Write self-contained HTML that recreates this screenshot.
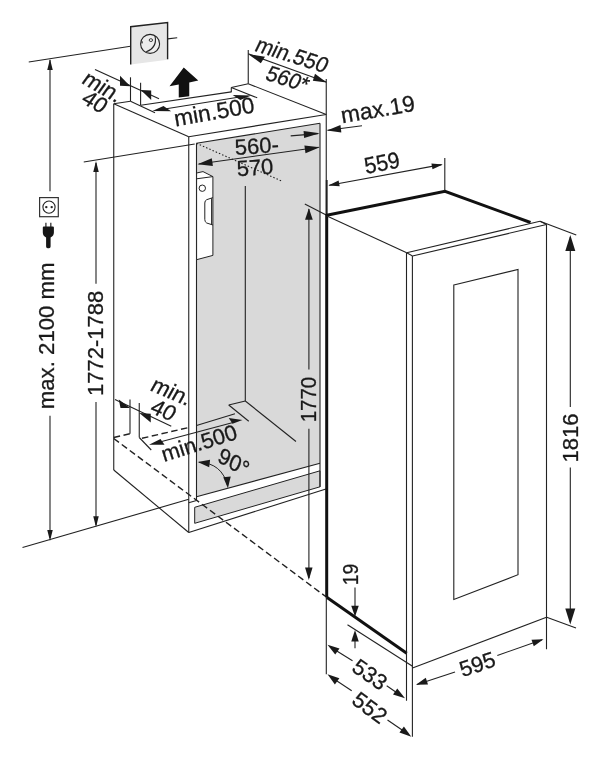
<!DOCTYPE html>
<html><head><meta charset="utf-8"><title>Installation dimensions</title>
<style>
html,body{margin:0;padding:0;background:#fff;}
svg{display:block;will-change:transform;}
text{font-family:"Liberation Sans",Arial,sans-serif;fill:#1a1a1a;stroke:#1a1a1a;stroke-width:0.3px;}
</style></head><body>
<svg width="600" height="761" viewBox="0 0 600 761">
<rect width="600" height="761" fill="#fff"/>
<polygon points="196.5,143.3 320,123.3 320,463.3 196.5,496.7" fill="#d9d9d9" stroke="none" stroke-width="1.1" />
<polygon points="194.7,507.3 320,470.8 320,486.8 194.7,523.3" fill="#d9d9d9" stroke="#222" stroke-width="1" />
<line x1="28.75" y1="62" x2="130.5" y2="46.25" stroke="#222" stroke-width="1.1" />
<line x1="50" y1="60" x2="50" y2="191.25" stroke="#222" stroke-width="1.1" />
<polygon points="50,59 52.75,70.0 47.25,70.0" fill="#1a1a1a" stroke="none" stroke-width="0" />
<line x1="50" y1="415.7" x2="50" y2="538" stroke="#222" stroke-width="1.1" />
<polygon points="50,541 47.25,530.0 52.75,530.0" fill="#1a1a1a" stroke="none" stroke-width="0" />
<line x1="22.5" y1="547.5" x2="188.75" y2="499.3" stroke="#222" stroke-width="1.1" />
<text transform="translate(53.5,409.2) rotate(-90)" font-size="22.2" text-anchor="start" >max. 2100 mm</text>
<rect x="39.6" y="197.6" width="18.7" height="19.1" fill="#fff" stroke="#333" stroke-width="1.2"/>
<circle cx="49" cy="207.1" r="6.1" fill="#fff" stroke="#222" stroke-width="1.1"/>
<circle cx="46.3" cy="207.1" r="1.2" fill="#222"/><circle cx="51.7" cy="207.1" r="1.2" fill="#222"/>
<path d="M45.9 222.8v4.5 M50.8 222.8v4.5" stroke="#444" stroke-width="1.4" fill="none"/>
<path d="M42.8 227.6Q42.8 226.6 43.8 226.6H52.9Q53.9 226.6 53.9 227.6V232.5Q53.9 235.8 50.6 237.6V246.6Q50.6 248.2 49 248.2H47.7Q46.1 248.2 46.1 246.6V237.6Q42.8 235.8 42.8 232.5Z" fill="#161616"/>
<line x1="83.75" y1="162" x2="194.7" y2="144" stroke="#222" stroke-width="1.1" />
<line x1="96" y1="163" x2="96" y2="283.75" stroke="#222" stroke-width="1.1" />
<polygon points="96,161 98.75,172.0 93.25,172.0" fill="#1a1a1a" stroke="none" stroke-width="0" />
<line x1="96" y1="402" x2="96" y2="525" stroke="#222" stroke-width="1.1" />
<polygon points="96,527.3 93.25,516.3 98.75,516.3" fill="#1a1a1a" stroke="none" stroke-width="0" />
<text transform="translate(102.8,396) rotate(-90)" font-size="22" text-anchor="start" >1772-1788</text>
<polygon points="130.7,26.7 167.6,22.6 167.6,59.8 130.7,64.6" fill="#e6e6e6" stroke="none" stroke-width="1.1" />
<polyline points="130.7,64.6 130.7,26.7 167.6,22.6 167.6,59.3" fill="none" stroke="#222" stroke-width="1.4" />
<line x1="167.6" y1="38.9" x2="177.2" y2="37.75" stroke="#222" stroke-width="1.1" />
<circle cx="150.1" cy="43.9" r="9.5" fill="#ececec" stroke="#222" stroke-width="1.1"/>
<path d="M155 36Q157.5 47.5 146.2 51.8" fill="none" stroke="#222" stroke-width="1.1"/>
<ellipse cx="150.9" cy="40.1" rx="1.7" ry="1.4" fill="#f4f4f4" stroke="#222" stroke-width="0.9"/>
<path d="M142.3 41.3L142 43.3" fill="none" stroke="#222" stroke-width="1.1"/>
<line x1="130.5" y1="77.3" x2="130.5" y2="101.3" stroke="#222" stroke-width="1.1" />
<line x1="140.6" y1="82.7" x2="140.6" y2="105.3" stroke="#222" stroke-width="1.1" />
<line x1="95" y1="69.5" x2="159" y2="98.7" stroke="#222" stroke-width="1.1" />
<polygon points="130.3,86.2 120,75.8 120,85.8" fill="#1a1a1a" stroke="none" stroke-width="1.1" />
<polygon points="140.8,90 151.2,90.5 151.2,100" fill="#1a1a1a" stroke="none" stroke-width="1.1" />
<text transform="translate(80.5,82.5) rotate(30) skewX(-6)" font-size="22" text-anchor="start" >min.</text>
<text transform="translate(80,102) rotate(29) skewX(-6)" font-size="22" text-anchor="start" >40</text>
<polygon points="183.75,67.5 169.5,86.25 178.75,84.5 178.75,97.5 189.25,96.25 189.25,82.5 198.25,80.5" fill="#111" stroke="none" stroke-width="1.1" />
<line x1="113.75" y1="103.75" x2="113.75" y2="470" stroke="#222" stroke-width="1.1" />
<line x1="113.75" y1="470" x2="188.75" y2="532.5" stroke="#222" stroke-width="1.1" />
<line x1="188.75" y1="136.7" x2="188.75" y2="532.5" stroke="#222" stroke-width="1.1" />
<line x1="196.5" y1="143.3" x2="196.5" y2="500.5" stroke="#222" stroke-width="1.1" />
<line x1="113.75" y1="103.75" x2="188.75" y2="136.7" stroke="#222" stroke-width="1.1" />
<line x1="188.75" y1="136.7" x2="326.25" y2="114.5" stroke="#222" stroke-width="1.1" />
<line x1="196.5" y1="143.3" x2="320" y2="123.3" stroke="#222" stroke-width="1.1" />
<line x1="320" y1="123.3" x2="320" y2="487" stroke="#222" stroke-width="1.1" />
<line x1="326.25" y1="79" x2="326.25" y2="215" stroke="#222" stroke-width="1.1" />
<line x1="326.7" y1="180" x2="326.7" y2="215" stroke="#222" stroke-width="1.9" />
<line x1="188.75" y1="532.5" x2="326.7" y2="488.7" stroke="#222" stroke-width="1.1" />
<line x1="188.75" y1="502.7" x2="196.5" y2="500.5" stroke="#222" stroke-width="1.1" />
<line x1="196.5" y1="496.7" x2="320" y2="463.3" stroke="#222" stroke-width="1.1" />
<line x1="113.75" y1="103.75" x2="130.5" y2="101.3" stroke="#222" stroke-width="1.1" />
<line x1="130.5" y1="101.3" x2="155" y2="112.7" stroke="#222" stroke-width="1.1" />
<line x1="140.7" y1="105.2" x2="231.3" y2="91.9" stroke="#222" stroke-width="1.1" />
<line x1="231.3" y1="87.5" x2="248.3" y2="83.8" stroke="#222" stroke-width="1.1" />
<line x1="231.3" y1="87.5" x2="231.3" y2="92.2" stroke="#222" stroke-width="1.1" />
<line x1="231.3" y1="87.5" x2="257.2" y2="97.8" stroke="#222" stroke-width="1.1" />
<line x1="248.25" y1="83.75" x2="326.25" y2="114.5" stroke="#222" stroke-width="1.1" />
<line x1="160" y1="109.7" x2="238" y2="97.2" stroke="#222" stroke-width="1.1" />
<polygon points="152.4,111 163.5,106 171.1,111.2" fill="#1a1a1a" stroke="none" stroke-width="1.1" />
<polygon points="251.3,95.4 232.7,94.9 240.3,100.1" fill="#1a1a1a" stroke="none" stroke-width="1.1" />
<text transform="translate(175.5,126.4) rotate(-10)" font-size="22.8" text-anchor="start" >min.500</text>
<line x1="248.25" y1="50" x2="248.25" y2="83.75" stroke="#222" stroke-width="1.1" />
<line x1="248.25" y1="53.75" x2="326.25" y2="82" stroke="#222" stroke-width="1.1" />
<polygon points="248.3,54.2 265,56.7 260.8,63.3" fill="#1a1a1a" stroke="none" stroke-width="1.1" />
<polygon points="326.7,82.5 315,73.7 312.8,80.8" fill="#1a1a1a" stroke="none" stroke-width="1.1" />
<text transform="translate(253.5,50.4) rotate(17.8) skewX(-8) scale(0.95,1)" font-size="22" text-anchor="start" >min.550</text>
<text transform="translate(264,79.3) rotate(17.5) skewX(-8) scale(0.95,1)" font-size="22" text-anchor="start" >560*</text>
<line x1="327.5" y1="130.3" x2="362" y2="125.7" stroke="#222" stroke-width="1.1" />
<polygon points="327,130.4 340.45,125.01 341.35,132.46" fill="#1a1a1a" stroke="none" stroke-width="0" />
<line x1="290.7" y1="135.9" x2="318" y2="133.6" stroke="#222" stroke-width="1.1" />
<polygon points="319.8,133.2 304.13,137.96 303.57,130.99" fill="#1a1a1a" stroke="none" stroke-width="0" />
<text transform="translate(342.3,123.3) rotate(-9.7)" font-size="22.8" text-anchor="start" >max.19</text>
<line x1="198.7" y1="164" x2="318.7" y2="147.3" stroke="#222" stroke-width="1.1" />
<polygon points="197.5,164.2 211.8,158.16 212.91,166.08" fill="#1a1a1a" stroke="none" stroke-width="0" />
<polygon points="319.8,147.3 305.5,153.34 304.39,145.42" fill="#1a1a1a" stroke="none" stroke-width="0" />
<text transform="translate(257.3,153.5) rotate(-4)" font-size="22" text-anchor="middle" >560-</text>
<text transform="translate(255.5,175) rotate(-4)" font-size="22" text-anchor="middle" >570</text>
<line x1="196.5" y1="143.3" x2="282.7" y2="181.5" stroke="#222" stroke-width="1.1" stroke-dasharray="1.5,2"/>
<line x1="245.3" y1="186" x2="245.3" y2="401" stroke="#222" stroke-width="1.1" />
<line x1="245.3" y1="401" x2="296" y2="441.5" stroke="#222" stroke-width="1.1" />
<line x1="228.75" y1="405" x2="245.3" y2="401" stroke="#222" stroke-width="1.1" />
<line x1="228.75" y1="405" x2="248.75" y2="421.25" stroke="#222" stroke-width="1.1" />
<path d="M196.6 173L203 171.6L212.9 176.6V255.4L196.6 259.7Z" fill="#fff" stroke="#222" stroke-width="1"/>
<path d="M196.6 178.8L212.9 176.6M212.9 197.6L206.7 199.7Q204.8 200.5 204.8 203V219.5Q204.8 222 206.7 223L212.9 225M211.6 198.2V224.6" fill="none" stroke="#222" stroke-width="1"/>
<circle cx="202.3" cy="188.2" r="3.2" fill="#fff" stroke="#222" stroke-width="1"/>
<line x1="113.75" y1="437.5" x2="130" y2="433.75" stroke="#222" stroke-width="1.4" stroke-dasharray="6.5,3.5"/>
<line x1="142" y1="438.3" x2="188.75" y2="427.5" stroke="#222" stroke-width="1.4" stroke-dasharray="6.5,3.5"/>
<line x1="196.5" y1="425.5" x2="235" y2="413.75" stroke="#222" stroke-width="1.1" />
<line x1="113.75" y1="438.5" x2="326.7" y2="597.3" stroke="#222" stroke-width="1.4" stroke-dasharray="6.5,3.5"/>
<line x1="130" y1="399.5" x2="130" y2="433.75" stroke="#222" stroke-width="1.1" />
<line x1="139.25" y1="403" x2="139.25" y2="437.5" stroke="#222" stroke-width="1.1" />
<line x1="115" y1="399.5" x2="171.25" y2="426.25" stroke="#222" stroke-width="1.1" />
<polygon points="130,408 118.75,399.5 120.5,408" fill="#1a1a1a" stroke="none" stroke-width="1.1" />
<polygon points="139.25,413 150.75,413.75 150.75,422.5" fill="#1a1a1a" stroke="none" stroke-width="1.1" />
<line x1="139.25" y1="437.5" x2="151.25" y2="450" stroke="#222" stroke-width="1.1" />
<line x1="158" y1="442.5" x2="234" y2="422.2" stroke="#222" stroke-width="1.1" />
<polygon points="149,444.7 160.5,438.9 164.5,444.7" fill="#1a1a1a" stroke="none" stroke-width="1.1" />
<polygon points="242.5,420 228.75,418 232.5,423.75" fill="#1a1a1a" stroke="none" stroke-width="1.1" />
<text transform="translate(149,390) rotate(23) skewX(-6)" font-size="22" text-anchor="start" >min.</text>
<text transform="translate(148.75,412) rotate(23) skewX(-6)" font-size="22" text-anchor="start" >40</text>
<text transform="translate(164,462) rotate(-17.5)" font-size="22" text-anchor="start" >min.500</text>
<path d="M199 462.3Q222 463 227.7 486" fill="none" stroke="#222" stroke-width="1"/>
<polygon points="197.7,462 210.06,459.71 209.17,467.15" fill="#1a1a1a" stroke="none" stroke-width="0" />
<polygon points="227.9,488.3 223.24,477.14 230.72,476.54" fill="#1a1a1a" stroke="none" stroke-width="0" />
<text transform="translate(216.6,461) rotate(30) skewX(8)" font-size="22" text-anchor="start" >90°</text>
<line x1="304.8" y1="203.9" x2="326.7" y2="215.3" stroke="#222" stroke-width="1.1" />
<line x1="308.9" y1="209" x2="308.9" y2="369.5" stroke="#222" stroke-width="1.1" />
<polygon points="308.9,208.3 312.75,219.8 305.05,219.8" fill="#1a1a1a" stroke="none" stroke-width="0" />
<line x1="308.9" y1="428.8" x2="308.9" y2="578" stroke="#222" stroke-width="1.1" />
<polygon points="308.8,580 305.05,567.5 312.55,567.5" fill="#1a1a1a" stroke="none" stroke-width="0" />
<text transform="translate(316.2,422.3) rotate(-90) scale(0.91,1)" font-size="22.5" text-anchor="start" >1770</text>
<polygon points="326.7,215.3 445,191.25 530.5,222.5 546.5,224.5 546.5,617.3 412.5,668 406.7,653.3 326.7,597.3" fill="#fff" stroke="none" stroke-width="1.1" />
<line x1="326.7" y1="215.3" x2="530.5" y2="222.5" stroke="#222" stroke-width="0" />
<polyline points="326.7,597.3 326.7,215.3 445,191.25 530.5,222.5" fill="none" stroke="#111" stroke-width="3.0" stroke-linejoin="miter"/>
<line x1="326.7" y1="597.3" x2="406.7" y2="653.3" stroke="#111" stroke-width="3.0" />
<line x1="327.5" y1="216.25" x2="406.7" y2="252.7" stroke="#222" stroke-width="1.1" />
<line x1="406.7" y1="252.7" x2="540" y2="221.25" stroke="#222" stroke-width="1.1" />
<line x1="412.5" y1="256" x2="546.5" y2="224.5" stroke="#222" stroke-width="1.1" />
<line x1="540" y1="221.25" x2="546.5" y2="224.5" stroke="#222" stroke-width="1.1" />
<line x1="406.5" y1="252.7" x2="406.5" y2="700.8" stroke="#222" stroke-width="1.1" />
<line x1="412.4" y1="256" x2="412.4" y2="736.7" stroke="#222" stroke-width="1.1" />
<line x1="406.7" y1="252.7" x2="412.5" y2="256" stroke="#222" stroke-width="1.1" />
<line x1="546.5" y1="224.5" x2="546.5" y2="649.3" stroke="#222" stroke-width="1.1" />
<line x1="412.5" y1="668" x2="546.5" y2="617.3" stroke="#222" stroke-width="1.1" />
<polygon points="453.8,285 518,269.5 518,574.7 453.8,599.5" fill="none" stroke="#222" stroke-width="1.1" />
<line x1="347.5" y1="624.7" x2="412.5" y2="666.2" stroke="#222" stroke-width="1.1" />
<line x1="444.8" y1="158" x2="444.8" y2="190.5" stroke="#222" stroke-width="1.1" />
<line x1="329.3" y1="185.2" x2="441.5" y2="164.6" stroke="#222" stroke-width="1.1" />
<polygon points="328.3,185.4 338.58,180.47 339.66,186.37" fill="#1a1a1a" stroke="none" stroke-width="0" />
<polygon points="442.8,164.4 432.52,169.33 431.44,163.43" fill="#1a1a1a" stroke="none" stroke-width="0" />
<text transform="translate(366,174) rotate(-11) scale(0.93,1)" font-size="23" text-anchor="start" >559</text>
<line x1="540" y1="221.25" x2="576.25" y2="235" stroke="#222" stroke-width="1.1" />
<line x1="546.7" y1="617.3" x2="576" y2="628" stroke="#222" stroke-width="1.1" />
<line x1="570.3" y1="237" x2="570.3" y2="407" stroke="#222" stroke-width="1.1" />
<line x1="570.3" y1="467.6" x2="570.3" y2="622" stroke="#222" stroke-width="1.1" />
<polygon points="570.3,235 575.3,251.0 565.3,251.0" fill="#1a1a1a" stroke="none" stroke-width="0" />
<polygon points="570.3,624.5 565.3,608.5 575.3,608.5" fill="#1a1a1a" stroke="none" stroke-width="0" />
<text transform="translate(578,462.5) rotate(-90)" font-size="22" text-anchor="start" >1816</text>
<line x1="417" y1="684.5" x2="455" y2="672" stroke="#222" stroke-width="1.1" />
<line x1="497.3" y1="655.5" x2="542" y2="639.7" stroke="#222" stroke-width="1.1" />
<polygon points="416,684.8 425.76,677.78 428.01,684.41" fill="#1a1a1a" stroke="none" stroke-width="0" />
<polygon points="543.5,639.2 533.8,646.3 531.49,639.7" fill="#1a1a1a" stroke="none" stroke-width="0" />
<text transform="translate(477.3,664) rotate(-18.5)" font-size="22" text-anchor="middle" y="7.88">595</text>
<line x1="326.3" y1="597" x2="326.3" y2="674.2" stroke="#222" stroke-width="1.1" />
<line x1="334" y1="649.2" x2="352.5" y2="660.8" stroke="#222" stroke-width="1.1" />
<line x1="386.7" y1="685.8" x2="399" y2="694.2" stroke="#222" stroke-width="1.1" />
<polygon points="327.5,644.7 339.5,648.44 335.23,654.61" fill="#1a1a1a" stroke="none" stroke-width="0" />
<polygon points="405,698.3 393.0,694.56 397.27,688.39" fill="#1a1a1a" stroke="none" stroke-width="0" />
<text transform="translate(370,674.2) rotate(34.7)" font-size="22" text-anchor="middle" y="7.88">533</text>
<line x1="334" y1="679" x2="351.7" y2="690.8" stroke="#222" stroke-width="1.1" />
<line x1="387.5" y1="720" x2="405" y2="732" stroke="#222" stroke-width="1.1" />
<polygon points="327.5,674.2 339.36,678.37 334.88,684.38" fill="#1a1a1a" stroke="none" stroke-width="0" />
<polygon points="411.3,736.7 399.44,732.53 403.92,726.52" fill="#1a1a1a" stroke="none" stroke-width="0" />
<text transform="translate(370,707.5) rotate(36.7)" font-size="22" text-anchor="middle" y="7.88">552</text>
<line x1="355" y1="587.5" x2="355" y2="606" stroke="#222" stroke-width="1.1" />
<polygon points="355,616.7 351.25,605.7 358.75,605.7" fill="#1a1a1a" stroke="none" stroke-width="0" />
<polygon points="355,630 358.75,641.5 351.25,641.5" fill="#1a1a1a" stroke="none" stroke-width="0" />
<line x1="355" y1="641" x2="355" y2="648.3" stroke="#222" stroke-width="1.1" />
<text transform="translate(357.6,585.3) rotate(-90) scale(0.88,1)" font-size="22" text-anchor="start" >19</text>
</svg>
</body></html>
